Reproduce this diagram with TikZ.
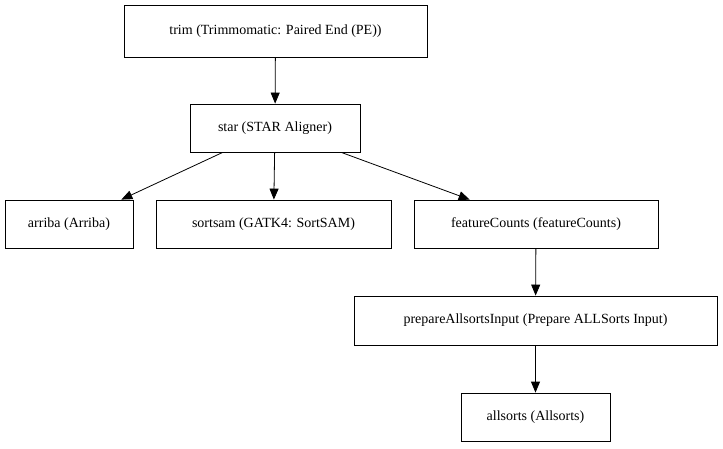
\documentclass[tikz,border=0pt]{standalone}
\usepackage{fontspec}
\setmainfont{Liberation Serif}
\usetikzlibrary{arrows.meta}
\begin{document}
\begin{tikzpicture}[x=1bp,y=-1bp,
  box/.style={draw,line width=0.8bp,minimum height=48bp,inner sep=0pt,font=\fontsize{14bp}{16bp}\selectfont},
  arr/.style={line width=0.8bp,-{Triangle[length=11bp,width=9bp]}}]
\useasboundingbox (0,0) rectangle (723,449);
\node[box,minimum width=303bp,minimum height=52bp] (trim) at (275.5,31) {trim (Trimmomatic: Paired End (PE))};
\node[box,minimum width=170bp] (star) at (275,128) {star (STAR Aligner)};
\node[box,minimum width=128bp] (arriba) at (69,224) {arriba (Arriba)};
\node[box,minimum width=235bp] (sortsam) at (273.5,224) {sortsam (GATK4: SortSAM)};
\node[box,minimum width=244bp] (fc) at (536,224) {featureCounts (featureCounts)};
\node[box,minimum width=363bp,minimum height=49bp] (prep) at (535.5,320.5) {prepareAllsortsInput (Prepare ALLSorts Input)};
\node[box,minimum width=149bp] (all) at (535.5,417) {allsorts (Allsorts)};
\draw[arr] (trim) -- (star);
\draw[arr] (star) -- (arriba);
\draw[arr] (star) -- (sortsam);
\draw[arr] (star) -- (fc);
\draw[arr] (fc) -- (prep);
\draw[arr] (prep) -- (all);
\end{tikzpicture}
\end{document}
